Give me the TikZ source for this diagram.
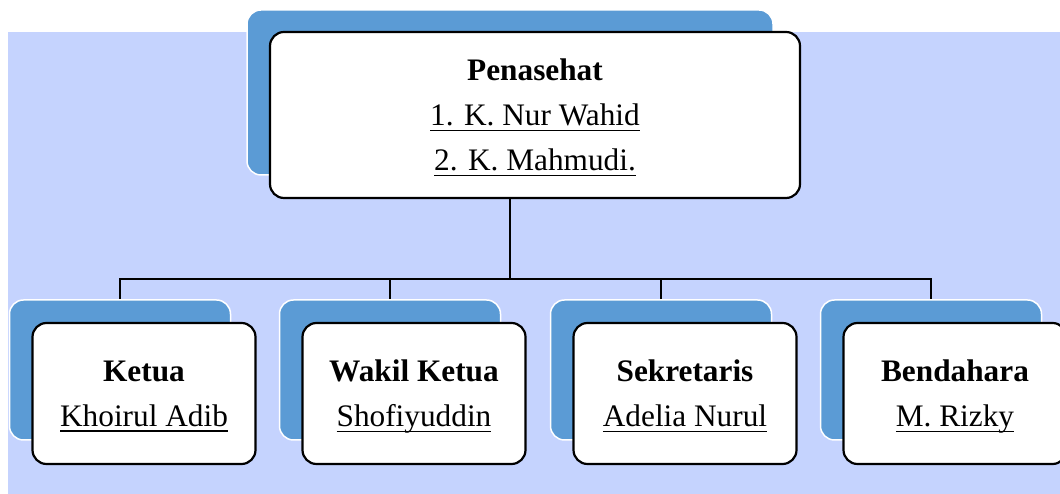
\documentclass[tikz,border=0pt]{standalone}
\usepackage{fontspec}
\setmainfont{Liberation Serif}
\definecolor{bgblue}{RGB}{197,211,254}
\definecolor{shadeblue}{RGB}{91,155,213}
% underline at a fixed depth, below the baseline
\newsavebox{\namesave}
\newcommand{\nameline}[1]{\sbox{\namesave}{#1}\smash{\rlap{\rule[-5.3pt]{\wd\namesave}{1.3pt}}}\usebox{\namesave}}
\tikzset{
  shadebox/.style={fill=shadeblue,draw=white,line width=1.5pt,rounded corners=14pt,
    minimum width=221pt,minimum height=140pt,inner sep=0pt},
  namebox/.style={fill=white,draw=black,line width=2.2pt,rounded corners=14pt,
    minimum width=223pt,minimum height=141pt,inner sep=0pt,align=center,
    font=\fontsize{31.3}{45}\selectfont,text depth=0pt},
  link/.style={line width=2.2pt}
}

\begin{document}
\begin{tikzpicture}[x=1pt,y=1pt]
\clip (0,0) rectangle (1060,494);
% draw the background
\fill[bgblue] (8,0) rectangle (1060,462);

% the shadows behind the boxes
\node[shadebox,minimum width=526pt,minimum height=165pt] (topshade) at (510,401.5) {};
\foreach \sx/\nm in {120/a,390/b,661/c,931/d}
\node[shadebox] (s-\nm) at (\sx,124) {};

% lines between the levels
\coordinate (bar) at (510,215);
\draw[link] (topshade.south) -- (bar);
\draw[link] (s-a.north) -- (s-a.north |- bar) -| (s-d.north);
\draw[link] (s-b.north) -- (s-b.north |- bar);
\draw[link] (s-c.north) -- (s-c.north |- bar);

% the boxes with the names
\node[namebox,minimum width=530pt,minimum height=166pt] (top) at (535,379)
  {\textbf{Penasehat}\\ \nameline{1. K. Nur Wahid}\\ \nameline{2. K. Mahmudi.}};
\foreach \wx/\role/\who/\nm in {
144/Ketua/Khoirul Adib/a,
414/Wakil Ketua/Shofiyuddin/b,
685/Sekretaris/Adelia Nurul/c,
955/Bendahara/M. Rizky/d}
\node[namebox] (b-\nm) at (\wx,100.5) {\textbf{\role}\\ \nameline{\who}};
\end{tikzpicture}
\end{document}
